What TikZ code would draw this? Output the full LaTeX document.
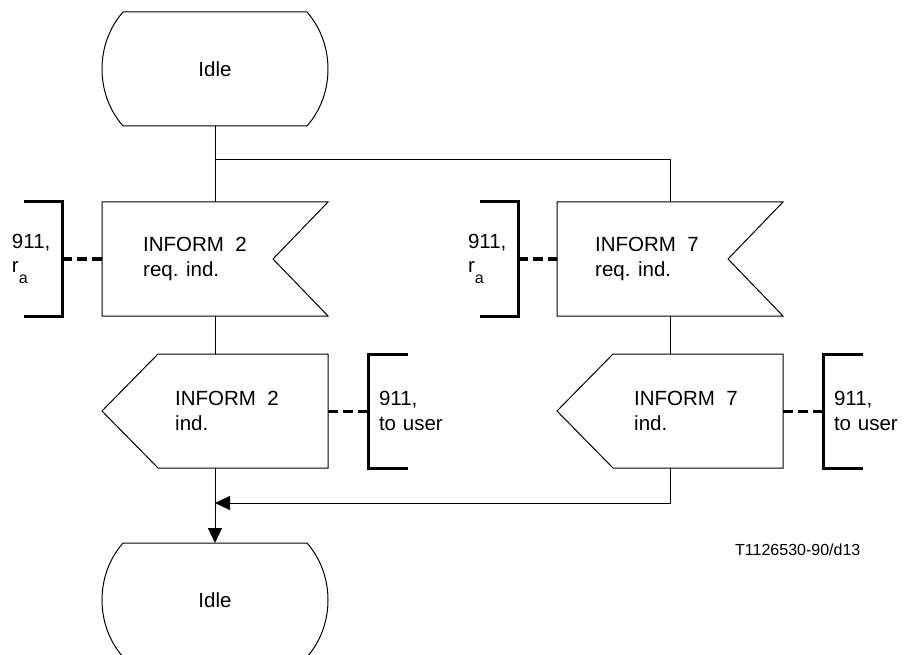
\documentclass[tikz,border=0pt]{standalone}
\usepackage{fontspec}
\setmainfont{Liberation Sans}
\usetikzlibrary{arrows.meta,positioning}

\def\stateoutline#1{([xshift=21pt]#1.north west) -- ([xshift=-21pt]#1.north east)
  .. controls ([xshift=7pt,yshift=-32pt]#1.north east) and ([xshift=7pt,yshift=32pt]#1.south east) .. ([xshift=-21pt]#1.south east)
  -- ([xshift=21pt]#1.south west)
  .. controls ([xshift=-7pt,yshift=32pt]#1.south west) and ([xshift=-7pt,yshift=-32pt]#1.north west) .. cycle}
\def\inputoutline#1{(#1.north west) -- (#1.north east) -- ([xshift=-55pt]#1.east) -- (#1.south east) -- (#1.south west) -- cycle}
\def\outputoutline#1{([xshift=56pt]#1.north west) -- (#1.north east) -- (#1.south east) -- ([xshift=56pt]#1.south west) -- (#1.west) -- cycle}
\def\leftbracket#1{([xshift=-38pt]#1.north east) -- (#1.north east) -- (#1.south east) -- ([xshift=-38pt]#1.south east)}
\def\rightbracket#1{([xshift=40pt]#1.north west) -- (#1.north west) -- (#1.south west) -- ([xshift=40pt]#1.south west)}
\def\lowsub#1{\raisebox{-11pt}{\fontsize{16}{16}\selectfont #1}}
\colorlet{line colour}{black}
\tikzset{
  symbol/.style={rectangle, inner sep=0pt, outer sep=0pt, minimum width=226pt, font=\fontsize{20.5}{24.5}\selectfont},
  state/.style={symbol, minimum height=114pt},
  signal/.style={symbol, minimum height=114pt},
  sigtext/.style={inner sep=0pt, align=left, font=\fontsize{20.5}{24.5}\selectfont},
  leftcomment/.style={inner sep=0pt, outer sep=0pt, minimum height=114pt, text width=50pt, align=left, font=\fontsize{20.5}{24.5}\selectfont},
  rightcomment/.style={leftcomment, text width=75pt, inner xsep=11pt},
  outline/.style={draw=line colour, line width=1pt},
  flow/.style={draw=line colour, line width=1pt},
  bracket/.style={draw=line colour, line width=3pt},
  dashlink/.style={draw=line colour, line width=3pt, dash pattern=on 10pt off 5pt},
  flowtip/.style={-{Triangle[length=15pt,width=14pt]}}
}

\begin{document}
\begin{tikzpicture}[x=1pt,y=-1pt]
  \useasboundingbox (0,0) rectangle (905,655);

  \node[state] (idleA) at (215,69) {Idle};
  \node[signal] (inA) at (215,259) {};
  \node[signal, right=229pt of inA] (inB) {};
  \node[signal, below=38pt of inA] (outA) {};
  \node[signal, below=38pt of inB] (outB) {};
  \node[state, below=75pt of outA] (idleB) {Idle};

  \node[sigtext, anchor=west] (inAtext) at ([xshift=41pt]inA.west) {INFORM\ \ 2\\req. ind.};
  \node[sigtext, anchor=west] (inBtext) at ([xshift=38pt]inB.west) {INFORM\ \ 7\\req. ind.};
  \node[sigtext, anchor=west] (outAtext) at ([xshift=73pt]outA.west) {INFORM\ \ 2\\ind.};
  \node[sigtext, anchor=west] (outBtext) at ([xshift=77pt]outB.west) {INFORM\ \ 7\\ind.};

  \node[leftcomment, left=40pt of inA] (cmtA) {911,\\r\lowsub{a}};
  \node[leftcomment, left=39pt of inB] (cmtB) {911,\\r\lowsub{a}};
  \node[rightcomment, right=40pt of outA] (cmtC) {911,\\to user};
  \node[rightcomment, right=40pt of outB] (cmtD) {911,\\to user};

  \draw[outline] \stateoutline{idleA};
  \draw[outline] \stateoutline{idleB};
  \draw[outline] \inputoutline{inA};
  \draw[outline] \inputoutline{inB};
  \draw[outline] \outputoutline{outA};
  \draw[outline] \outputoutline{outB};

  \draw[bracket] \leftbracket{cmtA};
  \draw[bracket] \leftbracket{cmtB};
  \draw[bracket] \rightbracket{cmtC};
  \draw[bracket] \rightbracket{cmtD};

  \draw[dashlink] (cmtA.east) -- (inA.west);
  \draw[dashlink] (cmtB.east) -- (inB.west);
  \draw[dashlink] (cmtC.west) -- (outA.east);
  \draw[dashlink] (cmtD.west) -- (outB.east);

  \coordinate (fork) at (215,160);
  \coordinate (merge) at (215,503);
  \draw[flow] (idleA.south) -- (inA.north);
  \draw[flow] (fork) -| (inB.north);
  \draw[flow] (inA.south) -- (outA.north);
  \draw[flow] (inB.south) -- (outB.north);
  \draw[flow, flowtip] (outB.south) |- (merge);
  \draw[flow, flowtip] (outA.south) -- (idleB.north);

  \node[anchor=west, inner sep=0pt, font=\fontsize{16}{18}\selectfont] (figref) at (735,550) {T1126530-90/d13};
\end{tikzpicture}
\end{document}
